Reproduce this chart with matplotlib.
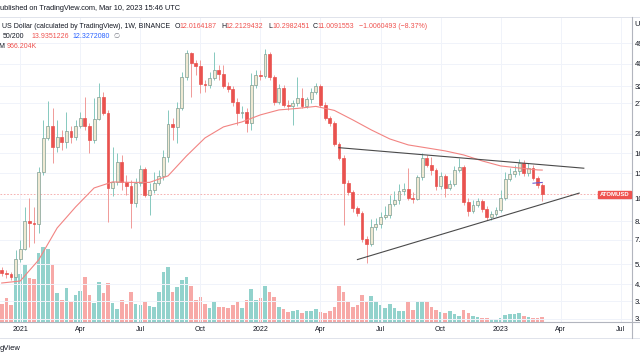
import numpy as np
import pandas as pd
import matplotlib
matplotlib.use("Agg")
import matplotlib.pyplot as plt
from matplotlib.lines import Line2D

# Weekly ATOMUSD candles, first bar week of 2020-12-07
START = "2020-12-07"

opens = [5.19, 5.03, 4.99, 4.84, 5.78, 6.38, 8.42, 8.25, 8.18, 13.68,
         19.16, 21.58, 17.53, 19.34, 18.42, 20.53, 19.34, 21.58, 23.35, 21.58,
         18.79, 23.12, 28.74, 24.53, 11.68, 12.39, 15.11, 12.39, 11.92, 10.06,
         12.27, 14.10, 10.90, 11.45, 12.27, 13.16, 15.87, 22.01, 21.35, 25.78,
         35.03, 44.43, 40.24, 39.09, 32.71, 32.37, 34.69, 37.56, 36.10, 32.07,
         31.12, 27.36, 24.53, 24.78, 22.21, 32.37, 35.74, 35.40, 44.02, 35.03,
         27.36, 31.43, 26.56, 26.31, 27.08, 28.46, 26.31, 28.18, 30.20, 32.07,
         26.56, 23.35, 22.21, 18.06, 15.72, 12.27, 11.22, 9.58, 9.11, 7.05,
         6.71, 7.94, 8.18, 8.76, 8.94, 9.97, 10.37, 11.34, 11.57, 10.58,
         10.48, 13.02, 15.72, 14.67, 13.96, 11.92, 13.16, 11.68, 12.15, 13.96,
         14.37, 10.16, 9.30, 9.87, 10.27, 9.49, 8.76, 9.03, 9.39, 10.58,
         12.77, 13.42, 13.82, 14.95, 13.55, 14.24, 12.90, 12.016]
highs = [5.34, 5.19, 5.08, 6.32, 6.98, 9.67, 10.58, 9.67, 14.37, 22.90,
         27.63, 25.78, 22.90, 20.74, 24.78, 21.58, 22.90, 24.78, 28.74, 22.21,
         28.46, 33.01, 30.20, 25.28, 17.53, 16.51, 16.19, 13.29, 12.65, 12.90,
         14.67, 14.37, 12.27, 13.68, 13.96, 17.02, 25.28, 23.35, 27.36, 36.81,
         45.78, 44.88, 41.47, 41.47, 34.02, 36.81, 44.88, 39.46, 39.46, 33.35,
         32.07, 28.46, 26.31, 25.78, 36.44, 37.56, 37.56, 46.24, 44.88, 35.74,
         32.71, 32.37, 27.91, 27.91, 35.03, 31.43, 28.74, 31.43, 33.01, 32.71,
         27.36, 23.83, 22.67, 18.42, 16.19, 12.65, 11.45, 9.77, 9.30, 7.26,
         8.59, 8.68, 9.21, 9.77, 10.90, 11.34, 12.15, 12.27, 14.24, 11.22,
         13.29, 16.51, 16.19, 15.87, 14.24, 13.68, 13.42, 12.65, 14.52, 15.72,
         14.67, 10.58, 10.37, 10.58, 10.48, 9.77, 9.30, 9.67, 11.45, 13.68,
         14.24, 14.67, 15.57, 15.41, 14.95, 14.67, 13.16, 12.213]
lows = [4.89, 4.79, 4.70, 4.70, 5.61, 6.30, 6.51, 6.77, 7.48, 13.29,
        18.79, 14.95, 16.68, 17.02, 17.36, 18.23, 18.79, 21.15, 20.74, 16.51,
        18.23, 22.90, 24.06, 8.34, 10.79, 12.03, 11.45, 10.90, 7.86, 9.67,
        11.92, 10.68, 8.94, 11.11, 12.03, 12.65, 15.11, 18.79, 18.23, 25.28,
        34.02, 28.74, 35.74, 29.90, 30.20, 31.43, 34.02, 34.02, 31.43, 30.20,
        26.31, 21.79, 23.35, 20.33, 20.74, 31.43, 34.02, 34.69, 34.02, 26.56,
        26.83, 26.03, 25.28, 21.79, 26.31, 25.78, 25.78, 27.08, 29.62, 26.03,
        22.90, 21.58, 17.71, 15.41, 8.09, 10.90, 9.21, 8.85, 6.84, 5.56,
        6.58, 7.71, 7.86, 8.59, 8.68, 9.77, 9.97, 10.90, 10.37, 10.06,
        10.37, 12.65, 14.37, 13.29, 11.45, 11.57, 10.68, 11.45, 11.92, 13.68,
        9.87, 8.85, 9.11, 9.67, 9.21, 8.51, 8.51, 8.85, 9.21, 10.37,
        12.52, 13.02, 13.29, 13.16, 13.16, 12.65, 11.68, 10.298]
closes = [5.03, 4.99, 4.84, 5.78, 6.38, 8.42, 8.25, 8.18, 13.68, 19.16,
          21.58, 17.53, 19.34, 18.42, 20.53, 19.34, 21.58, 23.35, 21.58, 18.79,
          23.12, 28.74, 24.53, 11.68, 12.39, 15.11, 12.39, 11.92, 10.06, 12.27,
          14.10, 10.90, 11.45, 12.27, 13.16, 15.87, 22.01, 21.35, 25.78, 35.03,
          44.43, 40.24, 39.09, 32.71, 32.37, 34.69, 37.56, 36.10, 32.07, 31.12,
          27.36, 24.53, 24.78, 22.21, 32.37, 35.74, 35.40, 44.02, 35.03, 27.36,
          31.43, 26.56, 26.31, 27.08, 28.46, 26.31, 28.18, 30.20, 32.07, 26.56,
          23.35, 22.21, 18.06, 15.72, 12.27, 11.22, 9.58, 9.11, 7.05, 6.71,
          7.94, 8.18, 8.76, 8.94, 9.97, 10.37, 11.34, 11.57, 10.58, 10.48,
          13.02, 15.72, 14.67, 13.96, 11.92, 13.16, 11.68, 12.15, 13.96, 14.37,
          10.16, 9.30, 9.87, 10.27, 9.49, 8.76, 9.03, 9.39, 10.58, 12.77,
          13.42, 13.82, 14.95, 13.55, 14.24, 12.90, 12.02, 11.009]
# volume, millions
volumes = [3.6, 4.8, 3.4, 9.6, 9.6, 11.6, 8.8, 8.6, 13.8, 15.0,
           14.6, 11.4, 5.8, 4.4, 6.8, 4.0, 5.4, 6.2, 9.0, 5.4,
           3.8, 8.0, 5.8, 7.8, 3.8, 2.6, 4.4, 3.6, 6.0, 3.6,
           3.4, 4.0, 3.2, 3.0, 6.0, 10.0, 11.0, 6.0, 7.0, 8.4,
           9.0, 7.2, 4.4, 5.0, 3.6, 2.8, 4.0, 3.0, 3.0, 2.8,
           3.4, 4.0, 2.8, 4.4, 6.6, 4.4, 4.8, 7.2, 6.0, 5.0,
           3.0, 2.6, 2.0, 2.2, 2.4, 1.8, 2.2, 2.2, 2.6, 2.0,
           1.8, 2.2, 3.0, 7.2, 6.0, 4.0, 3.0, 3.4, 5.4, 4.0,
           5.2, 4.2, 3.4, 2.8, 3.6, 2.8, 2.2, 2.2, 4.0, 2.4,
           4.0, 4.2, 4.0, 3.0, 2.4, 2.0, 1.8, 2.2, 1.6, 1.2,
           2.4, 1.8, 1.2, 1.0, 0.8, 0.8, 0.6, 0.6, 0.8, 1.4,
           1.6, 1.6, 1.8, 1.2, 1.0, 0.8, 0.8, 0.966]

# MA 50 read every 4 weeks (week offset from START)
ma50_week = [0, 4, 8, 12, 16, 20, 24, 28, 32, 36, 40, 44, 48, 52, 56, 60,
             64, 68, 72, 76, 80, 84, 88, 92, 96, 100, 104, 108, 112, 116, 117]
ma50_vals = [4.56, 4.65, 5.73, 7.86, 9.68, 11.68, 12.40, 12.34, 12.34, 13.16,
             16.03, 19.16, 21.37, 22.45, 24.07, 25.28, 25.66, 26.18, 25.16, 22.90,
             20.74, 18.97, 17.88, 17.36, 16.85, 16.19, 15.26, 14.52, 14.23, 13.96, 13.94]
ma200_week = [115, 116, 117]
ma200_vals = [12.24, 12.29, 12.33]

# drawn trend lines (date, price)
upper_line = [("2022-05-02", 17.4), ("2023-05-08", 14.2)]
lower_line = [("2022-05-30", 5.75), ("2023-05-01", 11.1)]

price_ticks = [49.0, 40.0, 32.0, 27.0, 20.0, 16.5, 13.5, 10.5, 8.4, 7.0, 5.5, 4.5, 3.8, 3.2]
last_close = 11.009

UP_BODY = "#efe9d3"
UP_EDGE = "#7e9d92"
UP_WICK = "#86c9bf"
DN_BODY = "#e9524f"
DN_WICK = "#f09a98"
VOL_UP = "#92d2cc"
VOL_DN = "#f7a9a7"
DARK = "#131722"
RED = "#ef5350"
BLUE = "#2962ff"
GRID = "#f0f3fa"
AXIS = "#b2b5be"

plt.rcParams["font.family"] = ["Liberation Sans", "DejaVu Sans"]

W, H = 640, 360
fig = plt.figure(figsize=(6.4, 3.6), dpi=100)
fig.patch.set_facecolor("white")

x0, x1, ytop, ybot = 0, 632, 17, 322
rect = [x0 / W, 1 - ybot / H, (x1 - x0) / W, (ybot - ytop) / H]
ax = fig.add_axes(rect)
vax = ax.twinx()
ax.set_zorder(vax.get_zorder() + 1)
ax.patch.set_visible(False)

start = pd.Timestamp(START)
n = len(closes)
idx = np.arange(n)
o = np.array(opens)
h = np.array(highs)
l = np.array(lows)
c = np.array(closes)
up = c >= o

def week_of(d):
    return (pd.Timestamp(d) - start).days / 7.0

# volume
vax.bar(idx, volumes, width=0.78, color=np.where(up, VOL_UP, VOL_DN), linewidth=0)
vax.set_ylim(0, 61)
vax.set_yticks([])
for s in vax.spines.values():
    s.set_visible(False)

# grid
ax.set_yscale("log")
ax.set_ylim(3.10, 63.4)
ax.set_xlim(-0.37, 136.43)
for p in price_ticks:
    ax.axhline(p, color=GRID, lw=0.7, zorder=0)

all_weeks = pd.date_range(START, periods=140, freq="W-MON")
tick_pos, tick_lab = [], []
for i, d in enumerate(all_weeks):
    if d.month in (1, 4, 7, 10) and d.day <= 7:
        tick_pos.append(i)
        tick_lab.append(str(d.year) if d.month == 1 else d.strftime("%b"))
for t in tick_pos:
    ax.axvline(t, color=GRID, lw=0.7, zorder=0)

# candles
ax.vlines(idx[up], l[up], h[up], color=UP_WICK, lw=0.7, zorder=3)
ax.vlines(idx[~up], l[~up], h[~up], color=DN_WICK, lw=0.7, zorder=3)
bot = np.minimum(o, c)
hgt = np.maximum(np.abs(c - o), bot * 0.004)
ax.bar(idx[up], hgt[up], bottom=bot[up], width=0.62, color=UP_BODY,
       edgecolor=UP_EDGE, linewidth=0.5, zorder=4)
ax.bar(idx[~up], hgt[~up], bottom=bot[~up], width=0.62, color=DN_BODY,
       edgecolor=DN_BODY, linewidth=0.5, zorder=4)

# moving averages
ax.plot(ma50_week, ma50_vals, color="#f28482", lw=0.8, zorder=5)
ax.plot(ma200_week, ma200_vals, color="#6a5acd", lw=0.8, zorder=5)

# trend lines
for seg in (upper_line, lower_line):
    ax.plot([week_of(seg[0][0]), week_of(seg[1][0])], [seg[0][1], seg[1][1]],
            color="#4a4a4a", lw=0.8, zorder=6)

# last price line
ax.axhline(last_close, color="#f4a6a6", lw=0.6, ls=(0, (2, 2)), zorder=2)

# axes styling
ax.set_xticks(tick_pos)
ax.set_xticklabels(tick_lab, fontsize=5, color=DARK)
ax.yaxis.tick_right()
ax.yaxis.set_minor_locator(matplotlib.ticker.NullLocator())
ax.set_yticks(price_ticks)
ax.set_yticklabels([f"{p:.3f}" for p in price_ticks], fontsize=5.6, color=DARK)
ax.tick_params(axis="x", length=0, pad=3)
ax.tick_params(axis="y", length=0, pad=2)
for side in ("top", "left", "bottom", "right"):
    ax.spines[side].set_visible(False)

def fline(xa, ya, xb, yb, color, lw=0.8):
    fig.add_artist(Line2D([xa / W, xb / W], [1 - ya / H, 1 - yb / H], color=color, lw=lw))

fline(0, 16.5, 640, 16.5, "#e0e3eb", 0.7)
fline(0, 322, 640, 322, AXIS, 0.8)
fline(0, 338, 640, 338, "#e0e3eb", 0.7)
fline(632, 16.5, 632, 338, AXIS, 0.8)

def ptext(x, y, s, color, size=5.0, **kw):
    fig.text(x / W, 1 - y / H, s, color=color, fontsize=size, va="center", ha="left", **kw)

ptext(0, 8, "ublished on TradingView.com, Mar 10, 2023 15:46 UTC", DARK, 5.3)
ptext(2, 26, "US Dollar (calculated by TradingView), 1W, BINANCE", DARK)
for x, letter, val in [(175, "O", "12.0164187"), (221, "H", "12.2129432"),
                       (268, "L", "10.2982451"), (313, "C", "11.0091553")]:
    ptext(x, 26, letter, DARK)
    ptext(x + 4.5, 26, val, RED)
ptext(359, 26, "\u22121.0060493 (\u22128.37%)", RED)
ptext(3, 36, "50/200", DARK)
ptext(31, 36, "13.9351226", RED)
ptext(72, 36, "12.3272080", BLUE)
ptext(113, 36, "\u2205", "#787b86")
ptext(-2, 47, "M", DARK)
ptext(7, 47, "966.204K", RED)
ptext(634, 24, "USD", DARK, 5.6)
ptext(0, 349, "gView", DARK, 5.5)

fig.text(614.5 / W, 1 - 194.5 / H, "ATOMUSD", color="white", fontsize=4.3,
         ha="center", va="center", fontweight="bold",
         bbox=dict(boxstyle="square,pad=0.25", facecolor=RED, edgecolor=RED))

fig.savefig("out.png", dpi=100)
